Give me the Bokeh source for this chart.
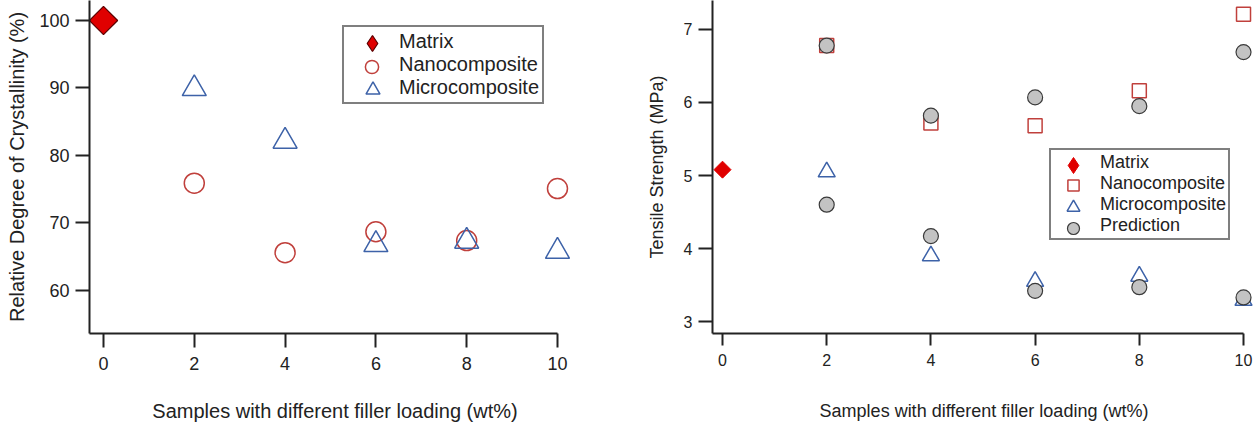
import numpy as np
from bokeh.plotting import figure
from bokeh.layouts import row
from bokeh.models import Range1d, FixedTicker, Legend, LegendItem
from bokeh.embed import file_html
from bokeh.resources import INLINE

# ---------------- data ----------------
loading_ticks = [0, 2, 4, 6, 8, 10]
matrix_loading = [0]
filler_loading = [2, 4, 6, 8, 10]

# Left panel: relative degree of crystallinity (%)
cryst_matrix = [100.0]
cryst_nano = [75.9, 65.6, 68.7, 67.4, 75.1]
cryst_micro = [89.9, 82.1, 66.8, 67.3, 65.8]
cryst_ticks = [60, 70, 80, 90, 100]

# Right panel: tensile strength (MPa)
ts_matrix = [5.08]
ts_nano = [6.78, 5.72, 5.68, 6.16, 7.21]
ts_micro = [5.05, 3.90, 3.55, 3.62, 3.29]
ts_pred_nano = [6.78, 5.82, 6.07, 5.95, 6.69]
ts_pred_micro = [4.60, 4.17, 3.42, 3.47, 3.33]
ts_ticks = [3, 4, 5, 6, 7]

left_labels = ["Matrix", "Nanocomposite", "Microcomposite"]
right_labels = ["Matrix", "Nanocomposite", "Microcomposite", "Prediction"]

X_TITLE = "Samples with different filler loading (wt%)"
FONT = "Liberation Sans"
AX = "#222222"
RED_FILL = "#e00000"
RED_LINE = "#5a0000"
NANO = "#c0403c"
MICRO = "#3d62a8"
PRED_FILL = "#c3c3c3"
PRED_LINE = "#3a3a3a"


def style_axes(p, tick_font, title_font, xt_out, yt_out, x_std, y_std, x_lbl_std):
    for ax in (p.xaxis[0], p.yaxis[0]):
        ax.axis_line_width = 2
        ax.axis_line_color = AX
        ax.major_tick_line_width = 2
        ax.major_tick_line_color = AX
        ax.major_tick_in = 0
        ax.minor_tick_line_color = None
        ax.major_label_text_font = FONT
        ax.major_label_text_font_size = tick_font
        ax.major_label_text_color = AX
        ax.axis_label_text_font = FONT
        ax.axis_label_text_font_style = "normal"
        ax.axis_label_text_font_size = title_font
        ax.axis_label_text_color = AX
        ax.major_label_standoff = 6
    p.xaxis[0].major_tick_out = xt_out
    p.yaxis[0].major_tick_out = yt_out
    p.xaxis[0].axis_label_standoff = x_std
    p.yaxis[0].axis_label_standoff = y_std
    p.xaxis[0].major_label_standoff = x_lbl_std
    p.xgrid.visible = False
    p.ygrid.visible = False
    p.outline_line_color = None


def add_legend(p, labels, renderer_lists, marker_glyph_sizes, box_x, box_y,
               pad, row_h, text_x_off, font_size, marker_x_off):
    """Boxed legend: labels drawn by one Legend (markers of size 0),
    markers drawn by one borderless Legend per item, so each marker can be
    larger than the row pitch."""
    box = Legend(items=[LegendItem(label=lab, renderers=rs)
                        for lab, rs in zip(labels, renderer_lists)],
                 location=(box_x, box_y), padding=pad, spacing=0,
                 glyph_height=row_h, glyph_width=0, label_standoff=text_x_off,
                 label_height=row_h, label_text_font=FONT,
                 label_text_font_size=font_size, label_text_color=AX,
                 label_text_baseline="middle",
                 border_line_color="black", border_line_width=2,
                 background_fill_color="white", background_fill_alpha=1.0,
                 margin=0)
    p.add_layout(box)
    n = len(labels)
    box_h = 2 * pad + n * row_h
    top = box_y + box_h  # from frame bottom, upward
    for i, (rs, g) in enumerate(zip(renderer_lists, marker_glyph_sizes)):
        cy = top - pad - row_h * (i + 0.5)
        lg = Legend(items=[LegendItem(label=" ", renderers=rs)],
                    location=(int(round(box_x + marker_x_off - g / 2)),
                              int(round(cy - g / 2))),
                    padding=0, spacing=0, glyph_height=g, glyph_width=g,
                    label_standoff=0, label_height=1, label_width=1,
                    label_text_font_size="1px", label_text_alpha=0,
                    border_line_color=None, background_fill_alpha=0,
                    margin=0)
        p.add_layout(lg)


# ---------------- left figure ----------------
lx0, lx1 = -0.308, 10.507
p1 = figure(width=625, height=425, output_backend="svg", toolbar_location=None,
            x_range=Range1d(lx0, lx1), y_range=Range1d(53.63, 102.96),
            min_border_left=89, min_border_right=45, min_border_top=0,
            min_border_bottom=92, x_axis_label=X_TITLE,
            y_axis_label="Relative Degree of Crystallinity (%)")
p1.xaxis[0].ticker = FixedTicker(ticks=loading_ticks)
p1.yaxis[0].ticker = FixedTicker(ticks=cryst_ticks)
p1.xaxis[0].bounds = (lx0, 10)
style_axes(p1, "18px", "20px", 14, 14, 27, 8, 9)

r_nano1 = p1.scatter(filler_loading, cryst_nano, marker="circle", size=20,
                     fill_color=None, line_color=NANO, line_width=1.5)
r_micro1 = p1.scatter(filler_loading, cryst_micro, marker="triangle", size=24,
                      fill_color=None, line_color=MICRO, line_width=1.5)
r_mat1_leg = p1.scatter(matrix_loading, cryst_matrix, marker="diamond", size=19,
                        fill_color=RED_FILL, line_color=RED_LINE, line_width=1.2)
r_mat1 = p1.scatter(matrix_loading, cryst_matrix, marker="square", size=20,
                    angle=np.pi / 4, fill_color=RED_FILL, line_color=RED_LINE,
                    line_width=1.2)

add_legend(p1, left_labels, [[r_mat1_leg], [r_nano1], [r_micro1]],
           [40, 33, 35], box_x=253, box_y=229, pad=3, row_h=23,
           text_x_off=52, font_size="20px", marker_x_off=30)

# ---------------- right figure ----------------
rx0, rx1 = -0.192, 10.23
p2 = figure(width=630, height=425, output_backend="svg", toolbar_location=None,
            x_range=Range1d(rx0, rx1), y_range=Range1d(2.836, 7.397),
            min_border_left=87, min_border_right=0, min_border_top=0,
            min_border_bottom=92, x_axis_label=X_TITLE,
            y_axis_label="Tensile Strength (MPa)")
p2.xaxis[0].ticker = FixedTicker(ticks=loading_ticks)
p2.yaxis[0].ticker = FixedTicker(ticks=ts_ticks)
p2.xaxis[0].bounds = (rx0, 10)
style_axes(p2, "16px", "18px", 12, 14, 32, 14, 8)

r_nano2 = p2.scatter(filler_loading, ts_nano, marker="square", size=14,
                     fill_color=None, line_color=NANO, line_width=1.5)
r_micro2 = p2.scatter(filler_loading, ts_micro, marker="triangle", size=17,
                      fill_color=None, line_color=MICRO, line_width=1.5)
r_pred_a = p2.scatter(filler_loading, ts_pred_nano, marker="circle", size=15,
                      fill_color=PRED_FILL, line_color=PRED_LINE, line_width=1.2)
r_pred_b = p2.scatter(filler_loading, ts_pred_micro, marker="circle", size=15,
                      fill_color=PRED_FILL, line_color=PRED_LINE, line_width=1.2)
r_mat2_leg = p2.scatter(matrix_loading, ts_matrix, marker="diamond", size=11,
                        fill_color=RED_FILL, line_color=RED_FILL, line_width=1)
r_mat2 = p2.scatter(matrix_loading, ts_matrix, marker="square", size=12,
                    angle=np.pi / 4, fill_color=RED_FILL, line_color=RED_FILL,
                    line_width=1)

add_legend(p2, right_labels, [[r_mat2_leg], [r_nano2], [r_micro2], [r_pred_a]],
           [40, 28, 32, 30], box_x=337, box_y=93, pad=2, row_h=21,
           text_x_off=47, font_size="18px", marker_x_off=24)

layout = row(p1, p2)
open("out.html", "w").write(file_html(layout, INLINE))
